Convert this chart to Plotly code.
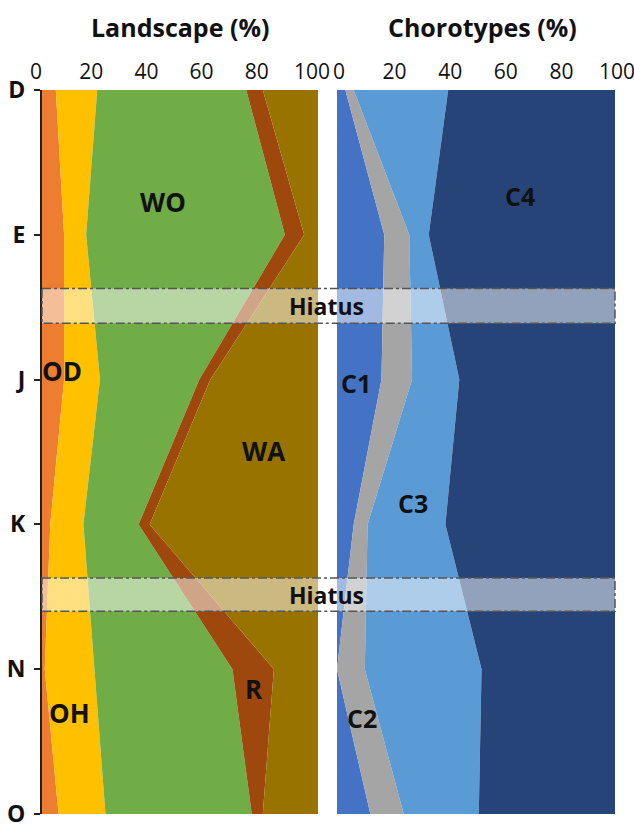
import plotly.graph_objects as go

W, H = 634, 825

# Levels (top to bottom)
levels = ["D", "E", "J", "K", "N", "O"]
level_pos = [0, 1, 2, 3, 4, 5]

# Landscape composition (%)
land_names = ["OD", "OH", "WO", "R", "WA"]
land_OD = [5, 8, 8, 3, 1, 6]
land_OH = [15, 8, 13, 12, 18, 17]
land_WO = [54, 72, 36, 20, 50, 53]
land_R = [6, 7, 4, 4, 15, 4]
land_WA = [20, 5, 39, 61, 16, 20]
land_colors = ["#ED7D31", "#FFC000", "#70AD47", "#9E480E", "#997300"]

# Chorotype composition (%)
choro_names = ["C1", "C2", "C3", "C4"]
choro_C1 = [3, 17, 16, 6, 0, 12]
choro_C2 = [3, 9, 11, 5, 10, 12]
choro_C3 = [34, 7, 17, 28, 42, 27]
choro_C4 = [60, 67, 56, 61, 48, 49]
choro_colors = ["#4472C4", "#A5A5A5", "#5B9BD5", "#264478"]

pct_ticks = [0, 20, 40, 60, 80, 100]

# Hiatus intervals in level units
hiatus_bands = [(1.37, 1.61), (3.37, 3.60)]

FONT = "Open Sans"

# pixel geometry of the two panels
left_px = (42, 318)
right_px = (337, 615)
top_px, bot_px = 90, 814


def px_x(p):
    return p / W


def px_y(p):
    return 1 - p / H


fig = go.Figure()

for name, vals, col in zip(land_names, [land_OD, land_OH, land_WO, land_R, land_WA], land_colors):
    fig.add_trace(go.Scatter(x=vals, y=level_pos, name=name, stackgroup="land",
                             orientation="h", mode="none", fillcolor=col,
                             xaxis="x", yaxis="y", hoverinfo="x+y+name"))

for name, vals, col in zip(choro_names, [choro_C1, choro_C2, choro_C3, choro_C4], choro_colors):
    fig.add_trace(go.Scatter(x=vals, y=level_pos, name=name, stackgroup="choro",
                             orientation="h", mode="none", fillcolor=col,
                             xaxis="x2", yaxis="y2", hoverinfo="x+y+name"))

ydom = [px_y(bot_px), px_y(top_px)]
xaxis_common = dict(range=[0, 100], side="top", tickvals=pct_ticks,
                    ticktext=[str(t) for t in pct_ticks], showgrid=False,
                    zeroline=False, showline=False, ticks="", automargin=False,
                    ticklabeloverflow="allow", ticklabelstandoff=6,
                    tickfont=dict(family=FONT, size=21, color="#111"))

fig.update_layout(
    width=W, height=H,
    margin=dict(l=0, r=0, t=0, b=0),
    paper_bgcolor="white", plot_bgcolor="white",
    showlegend=False,
    template="none",
    xaxis=dict(domain=[px_x(left_px[0]), px_x(left_px[1])], anchor="y",
               ticklabelshift=-6, **xaxis_common),
    xaxis2=dict(domain=[px_x(right_px[0]), px_x(right_px[1])], anchor="y2",
                ticklabelshift=2, **xaxis_common),
    yaxis=dict(domain=ydom, range=[5, 0], tickvals=level_pos,
               ticktext=[f"<b>{l}</b>" for l in levels], showgrid=False,
               zeroline=False, showline=True, linecolor="#222", linewidth=2,
               ticks="outside", ticklen=6, tickcolor="#222", tickwidth=1.5,
               automargin=False, anchor="x", ticklabeloverflow="allow",
               ticklabelstandoff=4,
               tickfont=dict(family=FONT, size=23, color="#111")),
    yaxis2=dict(domain=ydom, range=[5, 0], showticklabels=False, showgrid=False,
                zeroline=False, showline=False, ticks="", automargin=False, anchor="x2"),
)

# panel titles
for txt, cx in [("Landscape (%)", 180), ("Chorotypes (%)", 482)]:
    fig.add_annotation(x=px_x(cx), y=px_y(27), xref="paper", yref="paper",
                       xanchor="center", yanchor="middle",
                       text=f"<b>{txt}</b>", showarrow=False,
                       font=dict(family=FONT, size=25, color="#111"))

# hiatus bands across both panels
for y0, y1 in hiatus_bands:
    fig.add_shape(type="rect", xref="paper", yref="y",
                  x0=px_x(left_px[0]), x1=px_x(right_px[1]), y0=y0, y1=y1,
                  fillcolor="rgba(255,255,255,0.5)",
                  line=dict(color="#555", width=1.5, dash="dashdot"), layer="above")
    fig.add_annotation(x=px_x(326), y=(y0 + y1) / 2, xref="paper", yref="y",
                       text="<b>Hiatus</b>", showarrow=False,
                       font=dict(family=FONT, size=23, color="#111"))

# area labels
land_labels = [("WO", 43.8, 0.77), ("WA", 80.1, 2.49), ("OD", 7.2, 1.94),
               ("OH", 10.1, 4.30), ("R", 76.8, 4.14)]
for txt, x, y in land_labels:
    fig.add_annotation(x=x, y=y, xref="x", yref="y", text=f"<b>{txt}</b>",
                       showarrow=False, font=dict(family=FONT, size=26, color="#111"))

choro_labels = [("C1", 6.8, 2.02), ("C3", 27.3, 2.85), ("C4", 65.8, 0.73), ("C2", 9.0, 4.34)]
for txt, x, y in choro_labels:
    fig.add_annotation(x=x, y=y, xref="x2", yref="y2", text=f"<b>{txt}</b>",
                       showarrow=False, font=dict(family=FONT, size=25, color="#111"))

fig.write_html("out.html")
